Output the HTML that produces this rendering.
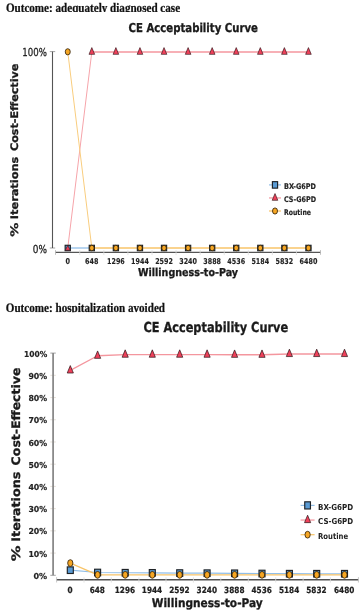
<!DOCTYPE html>
<html lang="en">
<head>
<meta charset="utf-8">
<title>CE Acceptability Curves</title>
<style>
html,body{margin:0;padding:0;background:#fff;}
body{width:361px;height:612px;overflow:hidden;}
svg{display:block;}
text{text-rendering:geometricPrecision;}
.g{opacity:0.999;}
</style>
</head>
<body>
<svg width="361" height="612" viewBox="0 0 361 612">
<rect width="361" height="612" fill="#ffffff"/>
<g class="g">
<clipPath id="h1"><rect x="0" y="0" width="361" height="12"/></clipPath>
<clipPath id="h2"><rect x="0" y="295" width="361" height="17.2"/></clipPath>
<g clip-path="url(#h1)"><text x="5.9" y="11.6" font-family="'Liberation Serif','DejaVu Serif',serif" font-size="13" font-weight="bold" text-anchor="start" fill="#111" textLength="174.2" lengthAdjust="spacingAndGlyphs" stroke="#111" stroke-width="0.25">Outcome: adequately diagnosed case</text></g>
<g clip-path="url(#h2)"><text x="5.8" y="311.6" font-family="'Liberation Serif','DejaVu Serif',serif" font-size="13" font-weight="bold" text-anchor="start" fill="#111" textLength="159.2" lengthAdjust="spacingAndGlyphs" stroke="#111" stroke-width="0.25">Outcome: hospitalization avoided</text></g>
<text x="128.6" y="31.7" font-family="'DejaVu Sans Condensed','DejaVu Sans','Liberation Sans',sans-serif" font-size="12.3" font-weight="bold" text-anchor="start" fill="#1a1a1a" textLength="129.3" lengthAdjust="spacingAndGlyphs" stroke="#1a1a1a" stroke-width="0.3">CE Acceptability Curve</text>
<path d="M49.8 51.60H55.2M49.8 248.0H55.2" stroke="#9a9a9a" stroke-width="0.9" fill="none"/>
<path d="M52.5 51.60V248.0" stroke="#555" stroke-width="1.1" fill="none"/>
<path d="M55.5 252.3H320.5" stroke="#555" stroke-width="1.2" fill="none"/>
<path d="M55.5 250.10V254.8M320.5 250.10V254.8" stroke="#b0b0b0" stroke-width="0.8" fill="none"/>
<path d="M79.78 250.10V255.10M103.85 250.10V255.10M127.92 250.10V255.10M152.00 250.10V255.10M176.06 250.10V255.10M200.13 250.10V255.10M224.21 250.10V255.10M248.28 250.10V255.10M272.35 250.10V255.10M296.42 250.10V255.10" stroke="#ddd" stroke-width="0.8" fill="none"/>
<text x="46.9" y="56.2" font-family="'DejaVu Sans Condensed','DejaVu Sans','Liberation Sans',sans-serif" font-size="11" font-weight="normal" text-anchor="end" fill="#222" textLength="24.6" lengthAdjust="spacingAndGlyphs" stroke="#222" stroke-width="0.25">100%</text>
<text x="46.9" y="252.6" font-family="'DejaVu Sans Condensed','DejaVu Sans','Liberation Sans',sans-serif" font-size="11" font-weight="normal" text-anchor="end" fill="#222" textLength="14.2" lengthAdjust="spacingAndGlyphs" stroke="#222" stroke-width="0.25">0%</text>
<g transform="translate(18.3 236.5) rotate(-90)"><text x="-0.30" y="0" font-family="'DejaVu Sans','Liberation Sans',sans-serif" font-size="10.4" font-weight="bold" text-anchor="start" fill="#1a1a1a" textLength="14.10" lengthAdjust="spacingAndGlyphs" stroke="#1a1a1a" stroke-width="0.3">%</text><text x="17.30" y="0" font-family="'DejaVu Sans','Liberation Sans',sans-serif" font-size="10.4" font-weight="bold" text-anchor="start" fill="#1a1a1a" textLength="62.50" lengthAdjust="spacingAndGlyphs" stroke="#1a1a1a" stroke-width="0.3">Iterations</text><text x="85.50" y="0" font-family="'DejaVu Sans','Liberation Sans',sans-serif" font-size="10.4" font-weight="bold" text-anchor="start" fill="#1a1a1a" textLength="87.40" lengthAdjust="spacingAndGlyphs" stroke="#1a1a1a" stroke-width="0.3">Cost-Effective</text></g>
<text x="67.75" y="263.5" font-family="'DejaVu Sans Condensed','DejaVu Sans','Liberation Sans',sans-serif" font-size="8.0" font-weight="bold" text-anchor="middle" fill="#222" textLength="4.5" lengthAdjust="spacingAndGlyphs" stroke="#222" stroke-width="0.1">0</text>
<text x="91.82" y="263.5" font-family="'DejaVu Sans Condensed','DejaVu Sans','Liberation Sans',sans-serif" font-size="8.0" font-weight="bold" text-anchor="middle" fill="#222" textLength="13.4" lengthAdjust="spacingAndGlyphs" stroke="#222" stroke-width="0.1">648</text>
<text x="115.89" y="263.5" font-family="'DejaVu Sans Condensed','DejaVu Sans','Liberation Sans',sans-serif" font-size="8.0" font-weight="bold" text-anchor="middle" fill="#222" textLength="17.8" lengthAdjust="spacingAndGlyphs" stroke="#222" stroke-width="0.1">1296</text>
<text x="139.96" y="263.5" font-family="'DejaVu Sans Condensed','DejaVu Sans','Liberation Sans',sans-serif" font-size="8.0" font-weight="bold" text-anchor="middle" fill="#222" textLength="17.8" lengthAdjust="spacingAndGlyphs" stroke="#222" stroke-width="0.1">1944</text>
<text x="164.03" y="263.5" font-family="'DejaVu Sans Condensed','DejaVu Sans','Liberation Sans',sans-serif" font-size="8.0" font-weight="bold" text-anchor="middle" fill="#222" textLength="17.8" lengthAdjust="spacingAndGlyphs" stroke="#222" stroke-width="0.1">2592</text>
<text x="188.10" y="263.5" font-family="'DejaVu Sans Condensed','DejaVu Sans','Liberation Sans',sans-serif" font-size="8.0" font-weight="bold" text-anchor="middle" fill="#222" textLength="17.8" lengthAdjust="spacingAndGlyphs" stroke="#222" stroke-width="0.1">3240</text>
<text x="212.17" y="263.5" font-family="'DejaVu Sans Condensed','DejaVu Sans','Liberation Sans',sans-serif" font-size="8.0" font-weight="bold" text-anchor="middle" fill="#222" textLength="17.8" lengthAdjust="spacingAndGlyphs" stroke="#222" stroke-width="0.1">3888</text>
<text x="236.24" y="263.5" font-family="'DejaVu Sans Condensed','DejaVu Sans','Liberation Sans',sans-serif" font-size="8.0" font-weight="bold" text-anchor="middle" fill="#222" textLength="17.8" lengthAdjust="spacingAndGlyphs" stroke="#222" stroke-width="0.1">4536</text>
<text x="260.31" y="263.5" font-family="'DejaVu Sans Condensed','DejaVu Sans','Liberation Sans',sans-serif" font-size="8.0" font-weight="bold" text-anchor="middle" fill="#222" textLength="17.8" lengthAdjust="spacingAndGlyphs" stroke="#222" stroke-width="0.1">5184</text>
<text x="284.38" y="263.5" font-family="'DejaVu Sans Condensed','DejaVu Sans','Liberation Sans',sans-serif" font-size="8.0" font-weight="bold" text-anchor="middle" fill="#222" textLength="17.8" lengthAdjust="spacingAndGlyphs" stroke="#222" stroke-width="0.1">5832</text>
<text x="308.45" y="263.5" font-family="'DejaVu Sans Condensed','DejaVu Sans','Liberation Sans',sans-serif" font-size="8.0" font-weight="bold" text-anchor="middle" fill="#222" textLength="17.8" lengthAdjust="spacingAndGlyphs" stroke="#222" stroke-width="0.1">6480</text>
<text x="188" y="276.1" font-family="'DejaVu Sans Condensed','DejaVu Sans','Liberation Sans',sans-serif" font-size="10.9" font-weight="bold" text-anchor="middle" fill="#1a1a1a" textLength="100" lengthAdjust="spacingAndGlyphs" stroke="#1a1a1a" stroke-width="0.3">Willingness-to-Pay</text>
<polyline points="67.75,248.00 91.82,248.00" fill="none" stroke="#92bfe8" stroke-width="1.3" stroke-linejoin="round"/>
<polyline points="67.75,248.00 91.82,52.00" fill="none" stroke="#f6a4aa" stroke-width="1.0" stroke-linejoin="round"/>
<polyline points="91.82,52.00 115.89,52.00 139.96,52.00 164.03,52.00 188.10,52.00 212.17,52.00 236.24,52.00 260.31,52.00 284.38,52.00 308.45,52.00" fill="none" stroke="#f4969e" stroke-width="1.4" stroke-linejoin="round"/>
<polyline points="67.75,51.80 91.82,248.00" fill="none" stroke="#f9cd7e" stroke-width="1.0" stroke-linejoin="round"/>
<polyline points="91.82,248.00 115.89,248.00 139.96,248.00 164.03,248.00 188.10,248.00 212.17,248.00 236.24,248.00 260.31,248.00 284.38,248.00 308.45,248.00" fill="none" stroke="#f8c468" stroke-width="1.4" stroke-linejoin="round"/>
<rect x="65.15" y="245.28" width="5.20" height="5.45" fill="#5a9bd4" stroke="#1e2226" stroke-width="1.15"/>
<rect x="89.22" y="245.28" width="5.20" height="5.45" fill="#5a9bd4" stroke="#1e2226" stroke-width="1.15"/>
<rect x="113.29" y="245.28" width="5.20" height="5.45" fill="#5a9bd4" stroke="#1e2226" stroke-width="1.15"/>
<rect x="137.36" y="245.28" width="5.20" height="5.45" fill="#5a9bd4" stroke="#1e2226" stroke-width="1.15"/>
<rect x="161.43" y="245.28" width="5.20" height="5.45" fill="#5a9bd4" stroke="#1e2226" stroke-width="1.15"/>
<rect x="185.50" y="245.28" width="5.20" height="5.45" fill="#5a9bd4" stroke="#1e2226" stroke-width="1.15"/>
<rect x="209.57" y="245.28" width="5.20" height="5.45" fill="#5a9bd4" stroke="#1e2226" stroke-width="1.15"/>
<rect x="233.64" y="245.28" width="5.20" height="5.45" fill="#5a9bd4" stroke="#1e2226" stroke-width="1.15"/>
<rect x="257.71" y="245.28" width="5.20" height="5.45" fill="#5a9bd4" stroke="#1e2226" stroke-width="1.15"/>
<rect x="281.78" y="245.28" width="5.20" height="5.45" fill="#5a9bd4" stroke="#1e2226" stroke-width="1.15"/>
<rect x="305.85" y="245.28" width="5.20" height="5.45" fill="#5a9bd4" stroke="#1e2226" stroke-width="1.15"/>
<path d="M67.75 245.40L70.25 250.30L65.25 250.30Z" fill="#f0405a" stroke="#30161a" stroke-width="0.65" stroke-linejoin="miter"/>
<path d="M91.82 47.60L94.62 54.35L89.02 54.35Z" fill="#f0405a" stroke="#30161a" stroke-width="0.65" stroke-linejoin="miter"/>
<path d="M115.89 47.60L118.69 54.35L113.09 54.35Z" fill="#f0405a" stroke="#30161a" stroke-width="0.65" stroke-linejoin="miter"/>
<path d="M139.96 47.60L142.76 54.35L137.16 54.35Z" fill="#f0405a" stroke="#30161a" stroke-width="0.65" stroke-linejoin="miter"/>
<path d="M164.03 47.60L166.83 54.35L161.23 54.35Z" fill="#f0405a" stroke="#30161a" stroke-width="0.65" stroke-linejoin="miter"/>
<path d="M188.10 47.60L190.90 54.35L185.30 54.35Z" fill="#f0405a" stroke="#30161a" stroke-width="0.65" stroke-linejoin="miter"/>
<path d="M212.17 47.60L214.97 54.35L209.37 54.35Z" fill="#f0405a" stroke="#30161a" stroke-width="0.65" stroke-linejoin="miter"/>
<path d="M236.24 47.60L239.04 54.35L233.44 54.35Z" fill="#f0405a" stroke="#30161a" stroke-width="0.65" stroke-linejoin="miter"/>
<path d="M260.31 47.60L263.11 54.35L257.51 54.35Z" fill="#f0405a" stroke="#30161a" stroke-width="0.65" stroke-linejoin="miter"/>
<path d="M284.38 47.60L287.18 54.35L281.58 54.35Z" fill="#f0405a" stroke="#30161a" stroke-width="0.65" stroke-linejoin="miter"/>
<path d="M308.45 47.60L311.25 54.35L305.65 54.35Z" fill="#f0405a" stroke="#30161a" stroke-width="0.65" stroke-linejoin="miter"/>
<ellipse cx="67.75" cy="51.80" rx="2.50" ry="3.10" fill="#f6a623" stroke="#2a1c08" stroke-width="0.8"/>
<ellipse cx="91.82" cy="248.00" rx="2.35" ry="2.75" fill="#f6a623" stroke="#2a1c08" stroke-width="0.8"/>
<ellipse cx="115.89" cy="248.00" rx="2.35" ry="2.75" fill="#f6a623" stroke="#2a1c08" stroke-width="0.8"/>
<ellipse cx="139.96" cy="248.00" rx="2.35" ry="2.75" fill="#f6a623" stroke="#2a1c08" stroke-width="0.8"/>
<ellipse cx="164.03" cy="248.00" rx="2.35" ry="2.75" fill="#f6a623" stroke="#2a1c08" stroke-width="0.8"/>
<ellipse cx="188.10" cy="248.00" rx="2.35" ry="2.75" fill="#f6a623" stroke="#2a1c08" stroke-width="0.8"/>
<ellipse cx="212.17" cy="248.00" rx="2.35" ry="2.75" fill="#f6a623" stroke="#2a1c08" stroke-width="0.8"/>
<ellipse cx="236.24" cy="248.00" rx="2.35" ry="2.75" fill="#f6a623" stroke="#2a1c08" stroke-width="0.8"/>
<ellipse cx="260.31" cy="248.00" rx="2.35" ry="2.75" fill="#f6a623" stroke="#2a1c08" stroke-width="0.8"/>
<ellipse cx="284.38" cy="248.00" rx="2.35" ry="2.75" fill="#f6a623" stroke="#2a1c08" stroke-width="0.8"/>
<ellipse cx="308.45" cy="248.00" rx="2.35" ry="2.75" fill="#f6a623" stroke="#2a1c08" stroke-width="0.8"/>
<path d="M269 184.9H281" stroke="#92bfe8" stroke-width="1.2"/>
<rect x="272.40" y="181.65" width="5.20" height="6.50" fill="#5a9bd4" stroke="#1e2226" stroke-width="1.15"/>
<text x="284.0" y="188.70" font-family="'DejaVu Sans Condensed','DejaVu Sans','Liberation Sans',sans-serif" font-size="7.8" font-weight="bold" text-anchor="start" fill="#222" textLength="32" lengthAdjust="spacingAndGlyphs" stroke="#222" stroke-width="0.15">BX-G6PD</text>
<path d="M269 197.95H281" stroke="#f4969e" stroke-width="1.2"/>
<path d="M275.00 193.55L277.80 200.30L272.20 200.30Z" fill="#f0405a" stroke="#30161a" stroke-width="0.65" stroke-linejoin="miter"/>
<text x="284.0" y="201.75" font-family="'DejaVu Sans Condensed','DejaVu Sans','Liberation Sans',sans-serif" font-size="7.8" font-weight="bold" text-anchor="start" fill="#222" textLength="32" lengthAdjust="spacingAndGlyphs" stroke="#222" stroke-width="0.15">CS-G6PD</text>
<path d="M269 211.0H281" stroke="#f8c468" stroke-width="1.2"/>
<ellipse cx="275.00" cy="211.00" rx="2.50" ry="3.10" fill="#f6a623" stroke="#2a1c08" stroke-width="0.8"/>
<text x="284.0" y="214.8" font-family="'DejaVu Sans Condensed','DejaVu Sans','Liberation Sans',sans-serif" font-size="7.8" font-weight="bold" text-anchor="start" fill="#222" textLength="27" lengthAdjust="spacingAndGlyphs" stroke="#222" stroke-width="0.15">Routine</text>
<text x="143.4" y="332.2" font-family="'DejaVu Sans Condensed','DejaVu Sans','Liberation Sans',sans-serif" font-size="13.8" font-weight="bold" text-anchor="start" fill="#1a1a1a" textLength="144.8" lengthAdjust="spacingAndGlyphs" stroke="#1a1a1a" stroke-width="0.3">CE Acceptability Curve</text>
<path d="M50.3 553.08H55.8M50.3 530.86H55.8M50.3 508.64H55.8M50.3 486.42H55.8M50.3 464.20H55.8M50.3 441.98H55.8M50.3 419.76H55.8M50.3 397.54H55.8M50.3 375.32H55.8" stroke="#ddd6cc" stroke-width="0.8" fill="none"/>
<path d="M50.3 353.1H55.8M50.3 575.3H55.8" stroke="#999" stroke-width="0.9" fill="none"/>
<path d="M53.1 353.1V575.3" stroke="#8a8a8a" stroke-width="1.8" fill="none"/>
<path d="M56.6 579.8H358.4" stroke="#505050" stroke-width="1.5" fill="none"/>
<path d="M56.6 577.10V582.5M358.4 577.10V582.5" stroke="#bbb" stroke-width="0.8" fill="none"/>
<path d="M84.01 577.3V582.60M111.31 577.3V582.60M138.91 577.3V582.60M166.01 577.3V582.60M193.41 577.3V582.60M220.81 577.3V582.60M248.31 577.3V582.60M275.71 577.3V582.60M303.11 577.3V582.60M330.41 577.3V582.60" stroke="#ddd" stroke-width="0.8" fill="none"/>
<text x="47.2" y="578.90" font-family="'DejaVu Sans Condensed','DejaVu Sans','Liberation Sans',sans-serif" font-size="8.2" font-weight="bold" text-anchor="end" fill="#222" textLength="13.7" lengthAdjust="spacingAndGlyphs" stroke="#222" stroke-width="0.15">0%</text>
<text x="47.2" y="556.68" font-family="'DejaVu Sans Condensed','DejaVu Sans','Liberation Sans',sans-serif" font-size="8.2" font-weight="bold" text-anchor="end" fill="#222" textLength="18.8" lengthAdjust="spacingAndGlyphs" stroke="#222" stroke-width="0.15">10%</text>
<text x="47.2" y="534.46" font-family="'DejaVu Sans Condensed','DejaVu Sans','Liberation Sans',sans-serif" font-size="8.2" font-weight="bold" text-anchor="end" fill="#222" textLength="18.8" lengthAdjust="spacingAndGlyphs" stroke="#222" stroke-width="0.15">20%</text>
<text x="47.2" y="512.24" font-family="'DejaVu Sans Condensed','DejaVu Sans','Liberation Sans',sans-serif" font-size="8.2" font-weight="bold" text-anchor="end" fill="#222" textLength="18.8" lengthAdjust="spacingAndGlyphs" stroke="#222" stroke-width="0.15">30%</text>
<text x="47.2" y="490.02" font-family="'DejaVu Sans Condensed','DejaVu Sans','Liberation Sans',sans-serif" font-size="8.2" font-weight="bold" text-anchor="end" fill="#222" textLength="18.8" lengthAdjust="spacingAndGlyphs" stroke="#222" stroke-width="0.15">40%</text>
<text x="47.2" y="467.80" font-family="'DejaVu Sans Condensed','DejaVu Sans','Liberation Sans',sans-serif" font-size="8.2" font-weight="bold" text-anchor="end" fill="#222" textLength="18.8" lengthAdjust="spacingAndGlyphs" stroke="#222" stroke-width="0.15">50%</text>
<text x="47.2" y="445.58" font-family="'DejaVu Sans Condensed','DejaVu Sans','Liberation Sans',sans-serif" font-size="8.2" font-weight="bold" text-anchor="end" fill="#222" textLength="18.8" lengthAdjust="spacingAndGlyphs" stroke="#222" stroke-width="0.15">60%</text>
<text x="47.2" y="423.36" font-family="'DejaVu Sans Condensed','DejaVu Sans','Liberation Sans',sans-serif" font-size="8.2" font-weight="bold" text-anchor="end" fill="#222" textLength="18.8" lengthAdjust="spacingAndGlyphs" stroke="#222" stroke-width="0.15">70%</text>
<text x="47.2" y="401.14" font-family="'DejaVu Sans Condensed','DejaVu Sans','Liberation Sans',sans-serif" font-size="8.2" font-weight="bold" text-anchor="end" fill="#222" textLength="18.8" lengthAdjust="spacingAndGlyphs" stroke="#222" stroke-width="0.15">80%</text>
<text x="47.2" y="378.92" font-family="'DejaVu Sans Condensed','DejaVu Sans','Liberation Sans',sans-serif" font-size="8.2" font-weight="bold" text-anchor="end" fill="#222" textLength="18.8" lengthAdjust="spacingAndGlyphs" stroke="#222" stroke-width="0.15">90%</text>
<text x="47.2" y="356.70" font-family="'DejaVu Sans Condensed','DejaVu Sans','Liberation Sans',sans-serif" font-size="8.2" font-weight="bold" text-anchor="end" fill="#222" textLength="23.3" lengthAdjust="spacingAndGlyphs" stroke="#222" stroke-width="0.15">100%</text>
<g transform="translate(19.9 561.0) rotate(-90)"><text x="-0.34" y="0" font-family="'DejaVu Sans','Liberation Sans',sans-serif" font-size="11.7" font-weight="bold" text-anchor="start" fill="#1a1a1a" textLength="15.77" lengthAdjust="spacingAndGlyphs" stroke="#1a1a1a" stroke-width="0.3">%</text><text x="19.35" y="0" font-family="'DejaVu Sans','Liberation Sans',sans-serif" font-size="11.7" font-weight="bold" text-anchor="start" fill="#1a1a1a" textLength="69.91" lengthAdjust="spacingAndGlyphs" stroke="#1a1a1a" stroke-width="0.3">Iterations</text><text x="95.64" y="0" font-family="'DejaVu Sans','Liberation Sans',sans-serif" font-size="11.7" font-weight="bold" text-anchor="start" fill="#1a1a1a" textLength="97.77" lengthAdjust="spacingAndGlyphs" stroke="#1a1a1a" stroke-width="0.3">Cost-Effective</text></g>
<text x="70.00" y="592.6" font-family="'DejaVu Sans Condensed','DejaVu Sans','Liberation Sans',sans-serif" font-size="8.5" font-weight="bold" text-anchor="middle" fill="#222" textLength="5.1" lengthAdjust="spacingAndGlyphs" stroke="#222" stroke-width="0.2">0</text>
<text x="97.30" y="592.6" font-family="'DejaVu Sans Condensed','DejaVu Sans','Liberation Sans',sans-serif" font-size="8.5" font-weight="bold" text-anchor="middle" fill="#222" textLength="15.3" lengthAdjust="spacingAndGlyphs" stroke="#222" stroke-width="0.2">648</text>
<text x="124.90" y="592.6" font-family="'DejaVu Sans Condensed','DejaVu Sans','Liberation Sans',sans-serif" font-size="8.5" font-weight="bold" text-anchor="middle" fill="#222" textLength="20.4" lengthAdjust="spacingAndGlyphs" stroke="#222" stroke-width="0.2">1296</text>
<text x="152.00" y="592.6" font-family="'DejaVu Sans Condensed','DejaVu Sans','Liberation Sans',sans-serif" font-size="8.5" font-weight="bold" text-anchor="middle" fill="#222" textLength="20.4" lengthAdjust="spacingAndGlyphs" stroke="#222" stroke-width="0.2">1944</text>
<text x="179.40" y="592.6" font-family="'DejaVu Sans Condensed','DejaVu Sans','Liberation Sans',sans-serif" font-size="8.5" font-weight="bold" text-anchor="middle" fill="#222" textLength="20.4" lengthAdjust="spacingAndGlyphs" stroke="#222" stroke-width="0.2">2592</text>
<text x="206.80" y="592.6" font-family="'DejaVu Sans Condensed','DejaVu Sans','Liberation Sans',sans-serif" font-size="8.5" font-weight="bold" text-anchor="middle" fill="#222" textLength="20.4" lengthAdjust="spacingAndGlyphs" stroke="#222" stroke-width="0.2">3240</text>
<text x="234.30" y="592.6" font-family="'DejaVu Sans Condensed','DejaVu Sans','Liberation Sans',sans-serif" font-size="8.5" font-weight="bold" text-anchor="middle" fill="#222" textLength="20.4" lengthAdjust="spacingAndGlyphs" stroke="#222" stroke-width="0.2">3888</text>
<text x="261.70" y="592.6" font-family="'DejaVu Sans Condensed','DejaVu Sans','Liberation Sans',sans-serif" font-size="8.5" font-weight="bold" text-anchor="middle" fill="#222" textLength="20.4" lengthAdjust="spacingAndGlyphs" stroke="#222" stroke-width="0.2">4536</text>
<text x="289.10" y="592.6" font-family="'DejaVu Sans Condensed','DejaVu Sans','Liberation Sans',sans-serif" font-size="8.5" font-weight="bold" text-anchor="middle" fill="#222" textLength="20.4" lengthAdjust="spacingAndGlyphs" stroke="#222" stroke-width="0.2">5184</text>
<text x="316.40" y="592.6" font-family="'DejaVu Sans Condensed','DejaVu Sans','Liberation Sans',sans-serif" font-size="8.5" font-weight="bold" text-anchor="middle" fill="#222" textLength="20.4" lengthAdjust="spacingAndGlyphs" stroke="#222" stroke-width="0.2">5832</text>
<text x="344.20" y="592.6" font-family="'DejaVu Sans Condensed','DejaVu Sans','Liberation Sans',sans-serif" font-size="8.5" font-weight="bold" text-anchor="middle" fill="#222" textLength="20.4" lengthAdjust="spacingAndGlyphs" stroke="#222" stroke-width="0.2">6480</text>
<text x="207.2" y="606.8" font-family="'DejaVu Sans Condensed','DejaVu Sans','Liberation Sans',sans-serif" font-size="11.9" font-weight="bold" text-anchor="middle" fill="#1a1a1a" textLength="111" lengthAdjust="spacingAndGlyphs" stroke="#1a1a1a" stroke-width="0.3">Willingness-to-Pay</text>
<polyline points="70.30,570.19 97.60,572.52 125.20,572.74 152.30,572.86 179.70,573.08 207.10,573.19 234.60,573.30 262.00,573.52 289.40,573.70 316.70,573.74 344.50,573.74" fill="none" stroke="#92bfe8" stroke-width="1.2" stroke-linejoin="round"/>
<polyline points="70.30,370.43 97.60,355.77 125.20,354.66 152.30,354.66 179.70,354.66 207.10,354.66 234.60,354.77 262.00,354.77 289.40,353.99 316.70,353.99 344.50,353.99" fill="none" stroke="#f4969e" stroke-width="1.3" stroke-linejoin="round"/>
<polyline points="70.30,563.08 97.60,574.86 125.20,574.86 152.30,574.86 179.70,574.86 207.10,574.86 234.60,574.86 262.00,574.86 289.40,574.86 316.70,574.86 344.50,574.86" fill="none" stroke="#f8c468" stroke-width="1.2" stroke-linejoin="round"/>
<rect x="67.30" y="566.89" width="6.00" height="6.60" fill="#5a9bd4" stroke="#1e2226" stroke-width="1.15"/>
<rect x="94.60" y="569.22" width="6.00" height="6.60" fill="#5a9bd4" stroke="#1e2226" stroke-width="1.15"/>
<rect x="122.20" y="569.44" width="6.00" height="6.60" fill="#5a9bd4" stroke="#1e2226" stroke-width="1.15"/>
<rect x="149.30" y="569.56" width="6.00" height="6.60" fill="#5a9bd4" stroke="#1e2226" stroke-width="1.15"/>
<rect x="176.70" y="569.78" width="6.00" height="6.60" fill="#5a9bd4" stroke="#1e2226" stroke-width="1.15"/>
<rect x="204.10" y="569.89" width="6.00" height="6.60" fill="#5a9bd4" stroke="#1e2226" stroke-width="1.15"/>
<rect x="231.60" y="570.00" width="6.00" height="6.60" fill="#5a9bd4" stroke="#1e2226" stroke-width="1.15"/>
<rect x="259.00" y="570.22" width="6.00" height="6.60" fill="#5a9bd4" stroke="#1e2226" stroke-width="1.15"/>
<rect x="286.40" y="570.40" width="6.00" height="6.60" fill="#5a9bd4" stroke="#1e2226" stroke-width="1.15"/>
<rect x="313.70" y="570.44" width="6.00" height="6.60" fill="#5a9bd4" stroke="#1e2226" stroke-width="1.15"/>
<rect x="341.50" y="570.44" width="6.00" height="6.60" fill="#5a9bd4" stroke="#1e2226" stroke-width="1.15"/>
<path d="M70.30 365.59L73.38 373.02L67.22 373.02Z" fill="#f0405a" stroke="#30161a" stroke-width="0.72" stroke-linejoin="miter"/>
<path d="M97.60 350.93L100.68 358.35L94.52 358.35Z" fill="#f0405a" stroke="#30161a" stroke-width="0.72" stroke-linejoin="miter"/>
<path d="M125.20 349.82L128.28 357.24L122.12 357.24Z" fill="#f0405a" stroke="#30161a" stroke-width="0.72" stroke-linejoin="miter"/>
<path d="M152.30 349.82L155.38 357.24L149.22 357.24Z" fill="#f0405a" stroke="#30161a" stroke-width="0.72" stroke-linejoin="miter"/>
<path d="M179.70 349.82L182.78 357.24L176.62 357.24Z" fill="#f0405a" stroke="#30161a" stroke-width="0.72" stroke-linejoin="miter"/>
<path d="M207.10 349.82L210.18 357.24L204.02 357.24Z" fill="#f0405a" stroke="#30161a" stroke-width="0.72" stroke-linejoin="miter"/>
<path d="M234.60 349.93L237.68 357.35L231.52 357.35Z" fill="#f0405a" stroke="#30161a" stroke-width="0.72" stroke-linejoin="miter"/>
<path d="M262.00 349.93L265.08 357.35L258.92 357.35Z" fill="#f0405a" stroke="#30161a" stroke-width="0.72" stroke-linejoin="miter"/>
<path d="M289.40 349.15L292.48 356.57L286.32 356.57Z" fill="#f0405a" stroke="#30161a" stroke-width="0.72" stroke-linejoin="miter"/>
<path d="M316.70 349.15L319.78 356.57L313.62 356.57Z" fill="#f0405a" stroke="#30161a" stroke-width="0.72" stroke-linejoin="miter"/>
<path d="M344.50 349.15L347.58 356.57L341.42 356.57Z" fill="#f0405a" stroke="#30161a" stroke-width="0.72" stroke-linejoin="miter"/>
<ellipse cx="70.30" cy="563.08" rx="2.62" ry="3.41" fill="#f6a623" stroke="#2a1c08" stroke-width="0.8"/>
<ellipse cx="97.60" cy="574.86" rx="2.62" ry="3.41" fill="#f6a623" stroke="#2a1c08" stroke-width="0.8"/>
<ellipse cx="125.20" cy="574.86" rx="2.62" ry="3.41" fill="#f6a623" stroke="#2a1c08" stroke-width="0.8"/>
<ellipse cx="152.30" cy="574.86" rx="2.62" ry="3.41" fill="#f6a623" stroke="#2a1c08" stroke-width="0.8"/>
<ellipse cx="179.70" cy="574.86" rx="2.62" ry="3.41" fill="#f6a623" stroke="#2a1c08" stroke-width="0.8"/>
<ellipse cx="207.10" cy="574.86" rx="2.62" ry="3.41" fill="#f6a623" stroke="#2a1c08" stroke-width="0.8"/>
<ellipse cx="234.60" cy="574.86" rx="2.62" ry="3.41" fill="#f6a623" stroke="#2a1c08" stroke-width="0.8"/>
<ellipse cx="262.00" cy="574.86" rx="2.62" ry="3.41" fill="#f6a623" stroke="#2a1c08" stroke-width="0.8"/>
<ellipse cx="289.40" cy="574.86" rx="2.62" ry="3.41" fill="#f6a623" stroke="#2a1c08" stroke-width="0.8"/>
<ellipse cx="316.70" cy="574.86" rx="2.62" ry="3.41" fill="#f6a623" stroke="#2a1c08" stroke-width="0.8"/>
<ellipse cx="344.50" cy="574.86" rx="2.62" ry="3.41" fill="#f6a623" stroke="#2a1c08" stroke-width="0.8"/>
<path d="M300.6 505.4H314.6" stroke="#92bfe8" stroke-width="1.2"/>
<rect x="304.74" y="501.82" width="5.72" height="7.15" fill="#5a9bd4" stroke="#1e2226" stroke-width="1.15"/>
<text x="318.1" y="509.7" font-family="'DejaVu Sans Condensed','DejaVu Sans','Liberation Sans',sans-serif" font-size="8.2" font-weight="bold" text-anchor="start" fill="#222" textLength="35" lengthAdjust="spacingAndGlyphs">BX-G6PD</text>
<path d="M300.6 520.05H314.6" stroke="#f4969e" stroke-width="1.2"/>
<path d="M307.60 515.21L310.68 522.63L304.52 522.63Z" fill="#f0405a" stroke="#30161a" stroke-width="0.72" stroke-linejoin="miter"/>
<text x="318.1" y="524.35" font-family="'DejaVu Sans Condensed','DejaVu Sans','Liberation Sans',sans-serif" font-size="8.2" font-weight="bold" text-anchor="start" fill="#222" textLength="35" lengthAdjust="spacingAndGlyphs">CS-G6PD</text>
<path d="M300.6 534.70H314.6" stroke="#f8c468" stroke-width="1.2"/>
<ellipse cx="307.60" cy="534.70" rx="2.62" ry="3.41" fill="#f6a623" stroke="#2a1c08" stroke-width="0.8"/>
<text x="318.1" y="539.00" font-family="'DejaVu Sans Condensed','DejaVu Sans','Liberation Sans',sans-serif" font-size="8.2" font-weight="bold" text-anchor="start" fill="#222" textLength="30" lengthAdjust="spacingAndGlyphs">Routine</text>
</g>
</svg>
</body>
</html>
